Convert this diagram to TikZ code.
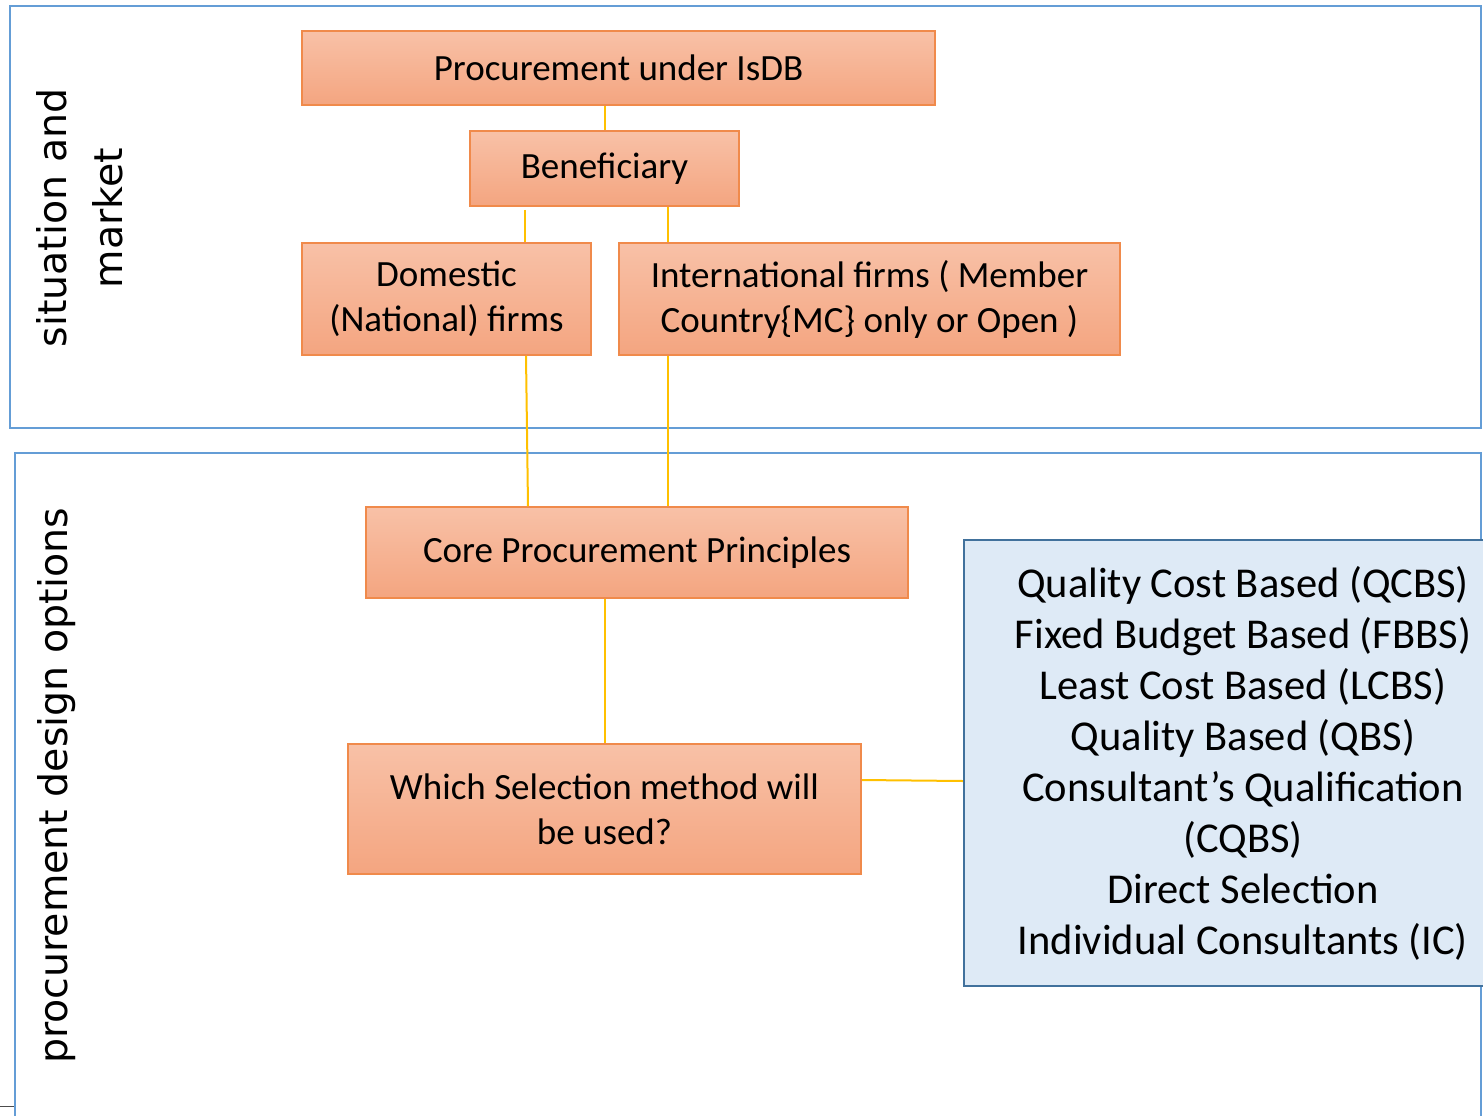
\documentclass[tikz,border=0pt]{standalone}
\usepackage{fontspec}
\setmainfont{Carlito}
\newfontfamily\sidefont{DejaVu Sans}
\definecolor{framebl}{RGB}{100,157,214}
\definecolor{stageline}{RGB}{240,138,75}
\definecolor{stagetop}{RGB}{248,193,167}
\definecolor{stagebot}{RGB}{244,165,128}
\definecolor{methfill}{RGB}{222,234,246}
\definecolor{methline}{RGB}{65,113,156}
\definecolor{linkyel}{RGB}{255,192,0}
\tikzset{
	x=1pt, y=-1pt,
	every text node part/.style= {
		align=center
	},
	stage/.style= {
		rectangle,
		draw=stageline,
		line width=1.5pt,
		top color=stagetop,
		bottom color=stagebot,
		inner sep=0,
		font=\fontsize{37}{45}\selectfont
	},
	methods/.style= {
		rectangle,
		draw=methline,
		fill=methfill,
		line width=2.5pt,
		inner sep=0,
		font=\fontsize{42.5}{51}\selectfont
	},
	frame/.style={draw=framebl, line width=2.5pt},
	side/.style={font=\sidefont\fontsize{39.5}{56}\selectfont, rotate=90, inner sep=0},
	link/.style={draw=linkyel, line width=2pt},
}

\begin{document}
\begin{tikzpicture}
		\useasboundingbox (0,0) rectangle (1483,1116);
		\draw[frame] (10,6) rectangle (1481,428);
		\draw[frame] (15,453) rectangle (1481,1130);
		\draw[black!70, line width=1pt] (0,1106) -- (14,1106);
		
		\node (market) [side] at (80,218) {situation and\\market};
		\node (design) [side] at (57,786) {procurement design options};
		
		\node (procure) [stage, minimum width=633, minimum height=74] at (618.5,68) {Procurement under IsDB};
		\node (benef) [stage, minimum width=269, minimum height=75] at (604.5,168.5) {Beneficiary};
		\node (domestic) [stage, minimum width=289, minimum height=112] at (446.5,299) {Domestic\\(National) firms};
		\node (intl) [stage, minimum width=501, minimum height=112] at (869.5,299) {International firms ( Member\\Country\{MC\} only or Open )};
		\node (core) [stage, minimum width=542, minimum height=91] at (637,552.5) {Core Procurement Principles};
		\node (which) [stage, minimum width=513, minimum height=130] at (604.5,809) {Which Selection method will\\be used?};
		\node (methods) [methods, minimum width=558, minimum height=446] at (1243,763) {Quality Cost Based (QCBS)\\Fixed Budget Based (FBBS)\\Least Cost Based (LCBS)\\Quality Based (QBS)\\Consultant’s Qualification\\(CQBS)\\Direct Selection\\Individual Consultants (IC)};
		
		\draw[link] (benef.north |- procure.south) -- (benef.north);
		\draw[link] ([xshift=-80pt,yshift=-3pt]benef.south) -- ([xshift=-80pt]benef.south |- domestic.north);
		\draw[link] ([xshift=63.5pt]benef.south) -- ([xshift=63.5pt]benef.south |- intl.north);
		\draw[link] ([xshift=79.5pt]domestic.south) -- ([xshift=-109pt]core.north);
		\draw[link] ([xshift=-201.5pt]intl.south) -- ([xshift=31pt]core.north);
		\draw[link] (which.north |- core.south) -- (which.north);
		\draw[link] ([yshift=29pt]which.east) -- ([yshift=-18pt]methods.west);
		\end{tikzpicture}
\end{document}
